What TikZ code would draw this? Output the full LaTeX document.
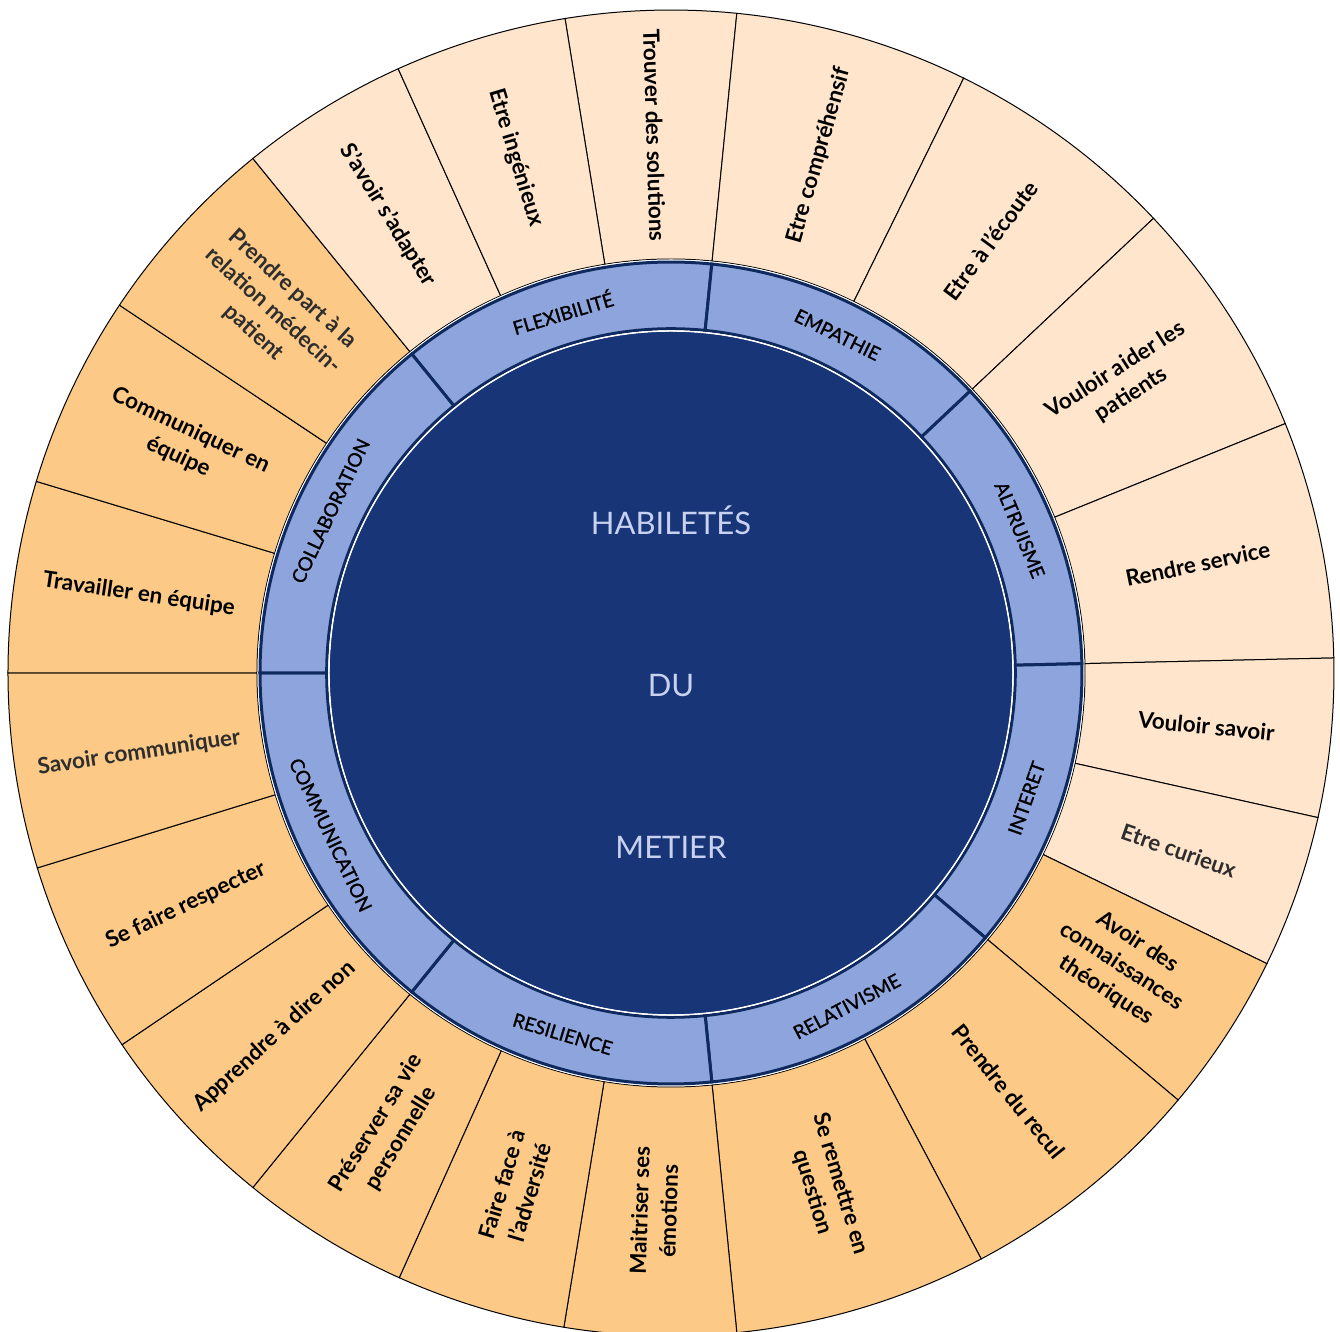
\documentclass[tikz,border=0pt]{standalone}
\usepackage{fontspec}
\setmainfont{Lato}
\newfontfamily\ringfont{Lato}[FakeBold=1.2]
\definecolor{peachL}{HTML}{FEE5CB}
\definecolor{peachD}{HTML}{FCC986}
\definecolor{ringblue}{HTML}{8EA4DC}
\definecolor{ringline}{HTML}{0F2A5F}
\definecolor{corenavy}{HTML}{183677}
\definecolor{ctext}{HTML}{C8D2F0}
\definecolor{softblack}{HTML}{2E2E2E}
\begin{document}
\begin{tikzpicture}[x=0.5pt,y=0.5pt,
  seg/.style={draw=black, line width=0.5pt},
  ringseg/.style={draw=ringline, line width=1.5pt, fill=ringblue},
  outlbl/.style={font=\bfseries\fontsize{11.2}{14.5}\selectfont, align=center, inner sep=0pt},
  ringlbl/.style={font=\ringfont\fontsize{9.5}{11}\selectfont, text=black, inner sep=0pt},
  ctr/.style={font=\fontsize{15.5}{18}\selectfont, text=ctext, anchor=base, inner sep=0pt}]
\useasboundingbox (-671,-659) rectangle (669,673);
% outer segments
\foreach \i/\a/\b/\c/\k/\t in {
  1/84.3/99.2/peachL/black/{Trouver des solutions},
  2/63.8/84.3/peachL/black/{Etre compréhensif},
  3/43.3/63.8/peachL/black/{Etre à l'écoute},
  4/22.1/43.3/peachL/black/{Vouloir aider les\\patients},
  5/1.3/22.1/peachL/black/{Rendre service},
  6/-12.6/1.3/peachL/black/{Vouloir savoir},
  7/-26/-12.6/peachL/softblack/{Etre curieux},
  8/-40.1/-26/peachD/black/{Avoir des\\connaissances\\théoriques},
  9/-62.1/-40.1/peachD/black/{Prendre du recul},
  10/-84.3/-62.1/peachD/black/{Se remettre en\\question},
  11/-99.3/-84.3/peachD/black/{Maitriser ses\\émotions},
  12/-114.2/-99.3/peachD/black/{Faire face à\\l'adversité},
  13/-129.1/-114.2/peachD/black/{Préserver sa vie\\personnelle},
  14/-145.9/-129.1/peachD/black/{Apprendre à dire non},
  15/-162.9/-145.9/peachD/black/{Se faire respecter},
  16/-180/-162.9/peachD/softblack/{Savoir communiquer},
  17/163.2/180/peachD/black/{Travailler en équipe},
  18/146.3/163.2/peachD/black/{Communiquer en\\équipe},
  19/129.1/146.3/peachD/softblack/{Prendre part à la\\relation médecin-\\patient},
  20/114.3/129.1/peachL/black/{S'avoir s'adapter},
  21/99.2/114.3/peachL/black/{Etre ingénieux}}{
  \pgfmathsetmacro\m{(\a+\b)/2}
  \pgfmathsetmacro\r{\m>90 ? \m-180 : (\m<-90 ? \m+180 : \m)}
  \draw[seg, fill=\c] (\a:414) arc[start angle=\a, end angle=\b, radius=414] -- (\b:663) arc[start angle=\b, end angle=\a, radius=663] -- cycle;
  \node[outlbl, text=\k, rotate=\r] (o\i) at (\m:538) {\t};
}
\fill[white] (0,0) circle[radius=413.5];
% ring
\foreach \i/\a/\b/\t in {
  1/84.3/129.1/{FLEXIBILITÉ},
  2/43.3/84.3/{EMPATHIE},
  3/1.3/43.3/{ALTRUISME},
  4/-40.1/1.3/{INTERET},
  5/-84.3/-40.1/{RELATIVISME},
  6/-129.1/-84.3/{RESILIENCE},
  7/-180/-129.1/{COMMUNICATION},
  8/129.1/180/{COLLABORATION}}{
  \pgfmathsetmacro\m{(\a+\b)/2}
  \pgfmathsetmacro\r{\m>0 ? \m-90 : \m+90}
  \draw[ringseg] (\a:344.3) arc[start angle=\a, end angle=\b, radius=344.3] -- (\b:411) arc[start angle=\b, end angle=\a, radius=411] -- cycle;
  \node[ringlbl, rotate=\r] (c\i) at (\m:377) {\t};
}
% core
\fill[corenavy] (0,0) circle[radius=341.5];
\draw[white, line width=0.7pt] (0,0) circle[radius=342];
\node[ctr] (t1) at (0,138) {HABILETÉS};
\node[ctr] (t2) at (0,-24) {DU};
\node[ctr] (t3) at (0,-186) {METIER};
\end{tikzpicture}
\end{document}
